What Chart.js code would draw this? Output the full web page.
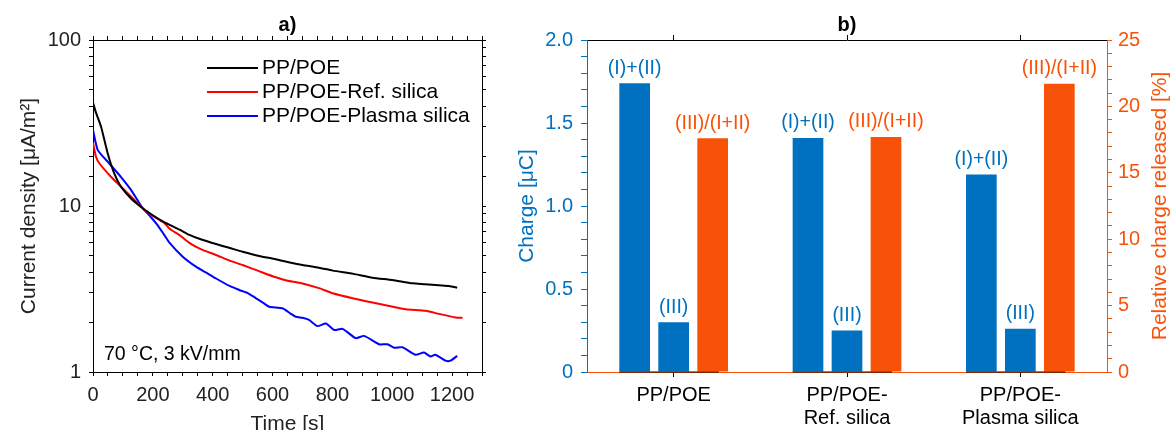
<!DOCTYPE html>
<html>
<head>
<meta charset="utf-8">
<script src="https://cdn.jsdelivr.net/npm/chart.js@4.4.0/dist/chart.umd.min.js"></script>
<style>
  body { margin: 0; background: #fff; }
  #wrap { position: relative; width: 1173px; height: 430px; }
  #graficaA { position: absolute; left: 0; top: 0; }
  #graficaB { position: absolute; left: 500px; top: 0; }
</style>
</head>
<body>
<div id="wrap">
  <canvas id="graficaA" width="500" height="430"></canvas>
  <canvas id="graficaB" width="673" height="430"></canvas>
</div>
<script>
// a) current density decay, log scale
const tPP = [0, 10, 27, 49, 71, 93, 127, 166, 200, 227, 256, 293, 322, 360, 411, 455, 500, 555, 611, 650, 700, 755, 801, 870, 934, 1000, 1068, 1110, 1156, 1190, 1217];
const jPP = [42, 36.5, 30, 20.8, 15.7, 13.1, 11.1, 9.7, 8.8, 8.2, 7.7, 7.15, 6.7, 6.3, 5.9, 5.6, 5.3, 5.0, 4.78, 4.6, 4.41, 4.25, 4.08, 3.9, 3.7, 3.58, 3.42, 3.38, 3.33, 3.3, 3.22];

const tRef = [0, 10, 21, 60, 93, 127, 166, 200, 238, 256, 293, 322, 360, 411, 455, 500, 555, 611, 650, 690, 755, 801, 868, 934, 990, 1045, 1112, 1156, 1212, 1235];
const jRef = [24, 19.8, 18.1, 15.0, 13.1, 11.4, 9.7, 8.7, 7.9, 7.3, 6.6, 6.0, 5.5, 5.07, 4.7, 4.41, 4.05, 3.72, 3.55, 3.45, 3.2, 2.98, 2.78, 2.62, 2.5, 2.39, 2.34, 2.24, 2.13, 2.12];

const tPlasma = [0, 16, 49, 93, 127, 166, 188, 215, 238, 256, 300, 344, 380, 411, 456, 489, 520, 545, 570, 589, 633, 660, 678, 700, 722, 750, 778, 806, 834, 878, 906, 956, 984, 1006, 1034, 1078, 1106, 1128, 1144, 1178, 1195, 1217];
const jPlasma = [28.7, 21.7, 18.5, 15.0, 12.5, 9.7, 8.8, 7.7, 6.7, 6.0, 4.95, 4.31, 3.95, 3.66, 3.3, 3.12, 2.97, 2.78, 2.6, 2.47, 2.42, 2.25, 2.15, 2.12, 2.06, 1.89, 1.96, 1.79, 1.82, 1.60, 1.65, 1.47, 1.47, 1.40, 1.41, 1.27, 1.31, 1.24, 1.27, 1.17, 1.17, 1.25];

const condicion = '70 °C, 3 kV/mm';

// b) charge per sample
const muestras = ['PP/POE', ['PP/POE-', 'Ref. silica'], ['PP/POE-', 'Plasma silica']];
const cargaI_II = [1.74, 1.41, 1.19];
const cargaIII = [0.30, 0.25, 0.26];
const relativa = [17.6, 17.7, 21.7];

const FONT = "'Liberation Sans', Arial, sans-serif";
const AZUL = '#0070C0';
const NARANJA = '#F85208';
const GRIS = '#222';

const puntos = (t, j) => t.map((x, i) => ({ x: x, y: j[i] }));
const esDecada = v => Math.abs(Math.log10(v) - Math.round(Math.log10(v))) < 1e-9;

const textosA = {
  id: 'textosA',
  afterDraw(chart) {
    const { ctx, chartArea: a } = chart;
    ctx.save();
    ctx.fillStyle = '#000';
    ctx.font = 'bold 20px ' + FONT;
    ctx.textAlign = 'center';
    ctx.textBaseline = 'middle';
    ctx.fillText('a)', (a.left + a.right) / 2, 25);

    // legend inside the plot
    ctx.font = '21px ' + FONT;
    ctx.textAlign = 'left';
    chart.data.datasets.forEach((ds, i) => {
      const y = a.top + 28 + i * 24;
      ctx.strokeStyle = ds.borderColor;
      ctx.lineWidth = 2;
      ctx.beginPath();
      ctx.moveTo(a.left + 114, y);
      ctx.lineTo(a.left + 165, y);
      ctx.stroke();
      ctx.fillStyle = '#000';
      ctx.fillText(ds.label, a.left + 169, y);
    });
    ctx.font = '19.5px ' + FONT;
    ctx.fillText(condicion, a.left + 11, a.bottom - 17);
    ctx.restore();
  }
};

new Chart(document.getElementById('graficaA'), {
  type: 'line',
  data: {
    datasets: [
      { label: 'PP/POE', data: puntos(tPP, jPP), borderColor: '#000' },
      { label: 'PP/POE-Ref. silica', data: puntos(tRef, jRef), borderColor: '#ff0000' },
      { label: 'PP/POE-Plasma silica', data: puntos(tPlasma, jPlasma), borderColor: '#0000ff' }
    ]
  },
  options: {
    responsive: false,
    animation: false,
    elements: { point: { radius: 0 }, line: { borderWidth: 2, tension: 0.2 } },
    plugins: { legend: { display: false }, tooltip: { enabled: false } },
    scales: {
      x: {
        type: 'linear', position: 'bottom', min: 0, max: 1300,
        ticks: { stepSize: 50, autoSkip: false, maxRotation: 0, padding: 7, color: GRIS,
          font: { family: FONT, size: 20 }, callback: v => v % 200 === 0 ? v : '' },
        grid: { drawOnChartArea: false, tickLength: 4, color: '#000' },
        border: { color: '#000' },
        title: { display: true, text: 'Time [s]', color: GRIS, font: { family: FONT, size: 21 }, padding: { top: 0, bottom: -7 } },
        afterFit: s => { s.height = 58; }
      },
      xTop: {
        type: 'linear', position: 'top', min: 0, max: 1300,
        ticks: { stepSize: 50, autoSkip: false, callback: () => '' },
        grid: { drawOnChartArea: false, tickLength: 4, color: '#000' },
        border: { color: '#000' },
        afterFit: s => { s.height = 40; }
      },
      y: {
        type: 'logarithmic', position: 'left', min: 1, max: 100,
        ticks: { autoSkip: false, padding: 8, color: GRIS, font: { family: FONT, size: 20 },
          callback: v => esDecada(v) ? v : '' },
        grid: { drawOnChartArea: false, tickLength: 4, color: '#000' },
        border: { color: '#000' },
        title: { display: true, text: 'Current density [μA/m²]', color: GRIS, font: { family: FONT, size: 21 }, padding: { top: 17, bottom: 0 } },
        afterFit: s => { s.width = 93; }
      },
      yR: {
        type: 'logarithmic', position: 'right', min: 1, max: 100,
        ticks: { autoSkip: false, callback: () => '' },
        grid: { drawOnChartArea: false, tickLength: 4, color: '#000' },
        border: { color: '#000' },
        afterFit: s => { s.width = 18; }
      }
    }
  },
  plugins: [textosA]
});

const textosB = {
  id: 'textosB',
  afterDatasetsDraw(chart) {
    const { ctx, chartArea: a } = chart;
    ctx.save();
    ctx.font = '19.5px ' + FONT;
    ctx.textAlign = 'center';
    ctx.textBaseline = 'middle';
    chart.data.datasets.forEach((ds, i) => {
      ctx.fillStyle = ds.backgroundColor;
      chart.getDatasetMeta(i).data.forEach(bar => ctx.fillText(ds.label, bar.x, bar.y - 15));
    });

    // black baseline under each group of bars
    const m0 = chart.getDatasetMeta(0).data;
    const m2 = chart.getDatasetMeta(2).data;
    ctx.strokeStyle = '#000';
    ctx.lineWidth = 1;
    m0.forEach((b, k) => {
      ctx.beginPath();
      ctx.moveTo(b.x - b.width / 2, a.bottom);
      ctx.lineTo(m2[k].x + m2[k].width * 0.2, a.bottom);
      ctx.stroke();
    });
    ctx.restore();
  },
  afterDraw(chart) {
    const { ctx, chartArea: a } = chart;
    ctx.save();
    ctx.fillStyle = '#000';
    ctx.font = 'bold 20px ' + FONT;
    ctx.textAlign = 'center';
    ctx.textBaseline = 'middle';
    ctx.fillText('b)', (a.left + a.right) / 2, 25);

    // right axis title, read bottom to top
    ctx.translate(a.right + 53, (a.top + a.bottom) / 2);
    ctx.rotate(-Math.PI / 2);
    ctx.fillStyle = NARANJA;
    ctx.font = '21px ' + FONT;
    ctx.fillText('Relative charge released [%]', 0, 0);
    ctx.restore();
  }
};

new Chart(document.getElementById('graficaB'), {
  type: 'bar',
  data: {
    labels: muestras,
    datasets: [
      { label: '(I)+(II)', data: cargaI_II, backgroundColor: AZUL, yAxisID: 'y' },
      { label: '(III)', data: cargaIII, backgroundColor: AZUL, yAxisID: 'y' },
      { label: '(III)/(I+II)', data: relativa, backgroundColor: NARANJA, yAxisID: 'y1' }
    ]
  },
  options: {
    responsive: false,
    animation: false,
    datasets: { bar: { categoryPercentage: 0.675, barPercentage: 0.787 } },
    plugins: { legend: { display: false }, tooltip: { enabled: false } },
    scales: {
      x: {
        position: 'bottom',
        ticks: { color: '#000', padding: 7, maxRotation: 0, font: { family: FONT, size: 20, lineHeight: 1.15 } },
        grid: { offset: false, drawOnChartArea: false, tickLength: 5, color: '#000' },
        border: { color: NARANJA },
        afterFit: s => { s.height = 58; }
      },
      xTop: {
        type: 'category', position: 'top', offset: true,
        ticks: { callback: () => '' },
        grid: { offset: false, drawOnChartArea: false, tickLength: 5, color: '#000' },
        border: { color: '#000' },
        afterFit: s => { s.height = 40; }
      },
      y: {
        position: 'left', min: 0, max: 2,
        ticks: { stepSize: 0.1, autoSkip: false, padding: 8, color: AZUL, font: { family: FONT, size: 20 },
          callback: v => Math.abs(v * 2 - Math.round(v * 2)) < 1e-6 ? (Math.abs(v) < 1e-6 ? '0' : v.toFixed(1)) : '' },
        grid: { drawOnChartArea: false, tickLength: 6, color: AZUL },
        border: { color: AZUL },
        title: { display: true, text: 'Charge [μC]', color: AZUL, font: { family: FONT, size: 21 }, padding: { top: 15, bottom: 0 } },
        afterFit: s => { s.width = 87; }
      },
      y1: {
        position: 'right', min: 0, max: 25,
        ticks: { stepSize: 1, autoSkip: false, padding: 6, color: NARANJA, font: { family: FONT, size: 20 },
          callback: v => v % 5 === 0 ? v : '' },
        grid: { drawOnChartArea: false, tickLength: 5, color: NARANJA },
        border: { color: NARANJA },
        afterFit: s => { s.width = 66; }
      }
    }
  },
  plugins: [textosB]
});
</script>
</body>
</html>
